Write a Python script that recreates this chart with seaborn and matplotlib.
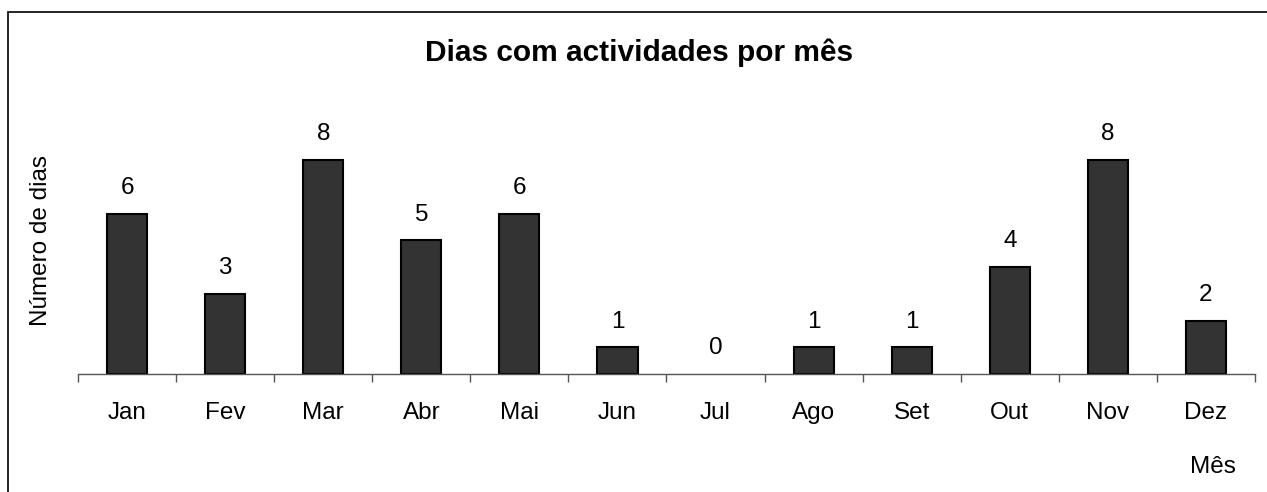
import matplotlib.pyplot as plt
import seaborn as sns
import pandas as pd
from matplotlib.patches import Rectangle

meses = ['Jan', 'Fev', 'Mar', 'Abr', 'Mai', 'Jun', 'Jul', 'Ago', 'Set', 'Out', 'Nov', 'Dez']
dias = [6, 3, 8, 5, 6, 1, 0, 1, 1, 4, 8, 2]

df = pd.DataFrame({'Mes': meses, 'Dias': dias})

sns.set_style('white')
plt.rcParams['font.family'] = ['Liberation Sans', 'DejaVu Sans']
plt.rcParams['text.color'] = 'black'
plt.rcParams['xtick.color'] = 'black'
plt.rcParams['xtick.labelcolor'] = 'black'

W, H = 1267, 492
fig = plt.figure(figsize=(W / 100, H / 100), dpi=100)
ax = fig.add_axes([78 / W, (H - 374) / H, 1177 / W, 267.5 / H])

sns.barplot(data=df, x='Mes', y='Dias', color='#333333', edgecolor='black',
            linewidth=1.5, width=0.41, saturation=1, ax=ax)

# sem contorno nas barras de altura zero
for p in ax.patches:
    if p.get_height() == 0:
        p.set_linewidth(0)

ax.set_xlim(-0.5, 11.5)
ax.set_ylim(0, 10)
for s in ['top', 'right', 'left']:
    ax.spines[s].set_visible(False)
ax.spines['bottom'].set_color('#555555')
ax.spines['bottom'].set_linewidth(1)
ax.set_yticks([])
ax.set_xticks(range(12))
ax.set_xticklabels(meses, fontsize=17.5, color='black')
ax.set_xticks([i - 0.5 for i in range(13)], minor=True)
ax.tick_params(axis='x', which='both', bottom=True)
ax.tick_params(axis='x', which='major', length=0, pad=20)
ax.tick_params(axis='x', which='minor', length=6, width=1, color='#555555', direction='out')
ax.set_xlabel('')
ax.set_ylabel('')

for i, v in enumerate(dias):
    ax.annotate(str(v), (i, v), xytext=(0, 18.4), textcoords='offset points',
                ha='center', va='center', fontsize=17.5, color='black')

fig.text(639 / W, 1 - 53 / H, 'Dias com actividades por mês', ha='center', va='center',
         fontsize=21.5, fontweight='bold', color='black')
fig.text(41 / W, 1 - 241 / H, 'Número de dias', ha='center', va='center',
         rotation=90, fontsize=17.5, color='black')
fig.text(1213 / W, 1 - 467 / H, 'Mês', ha='center', va='center', fontsize=17.5, color='black')

fig.patches.append(Rectangle((8 / W, -0.1), 1.2, 1 - 12 / H + 0.1, transform=fig.transFigure,
                             fill=False, edgecolor='black', linewidth=1.2))

fig.savefig('out.png', dpi=100)
